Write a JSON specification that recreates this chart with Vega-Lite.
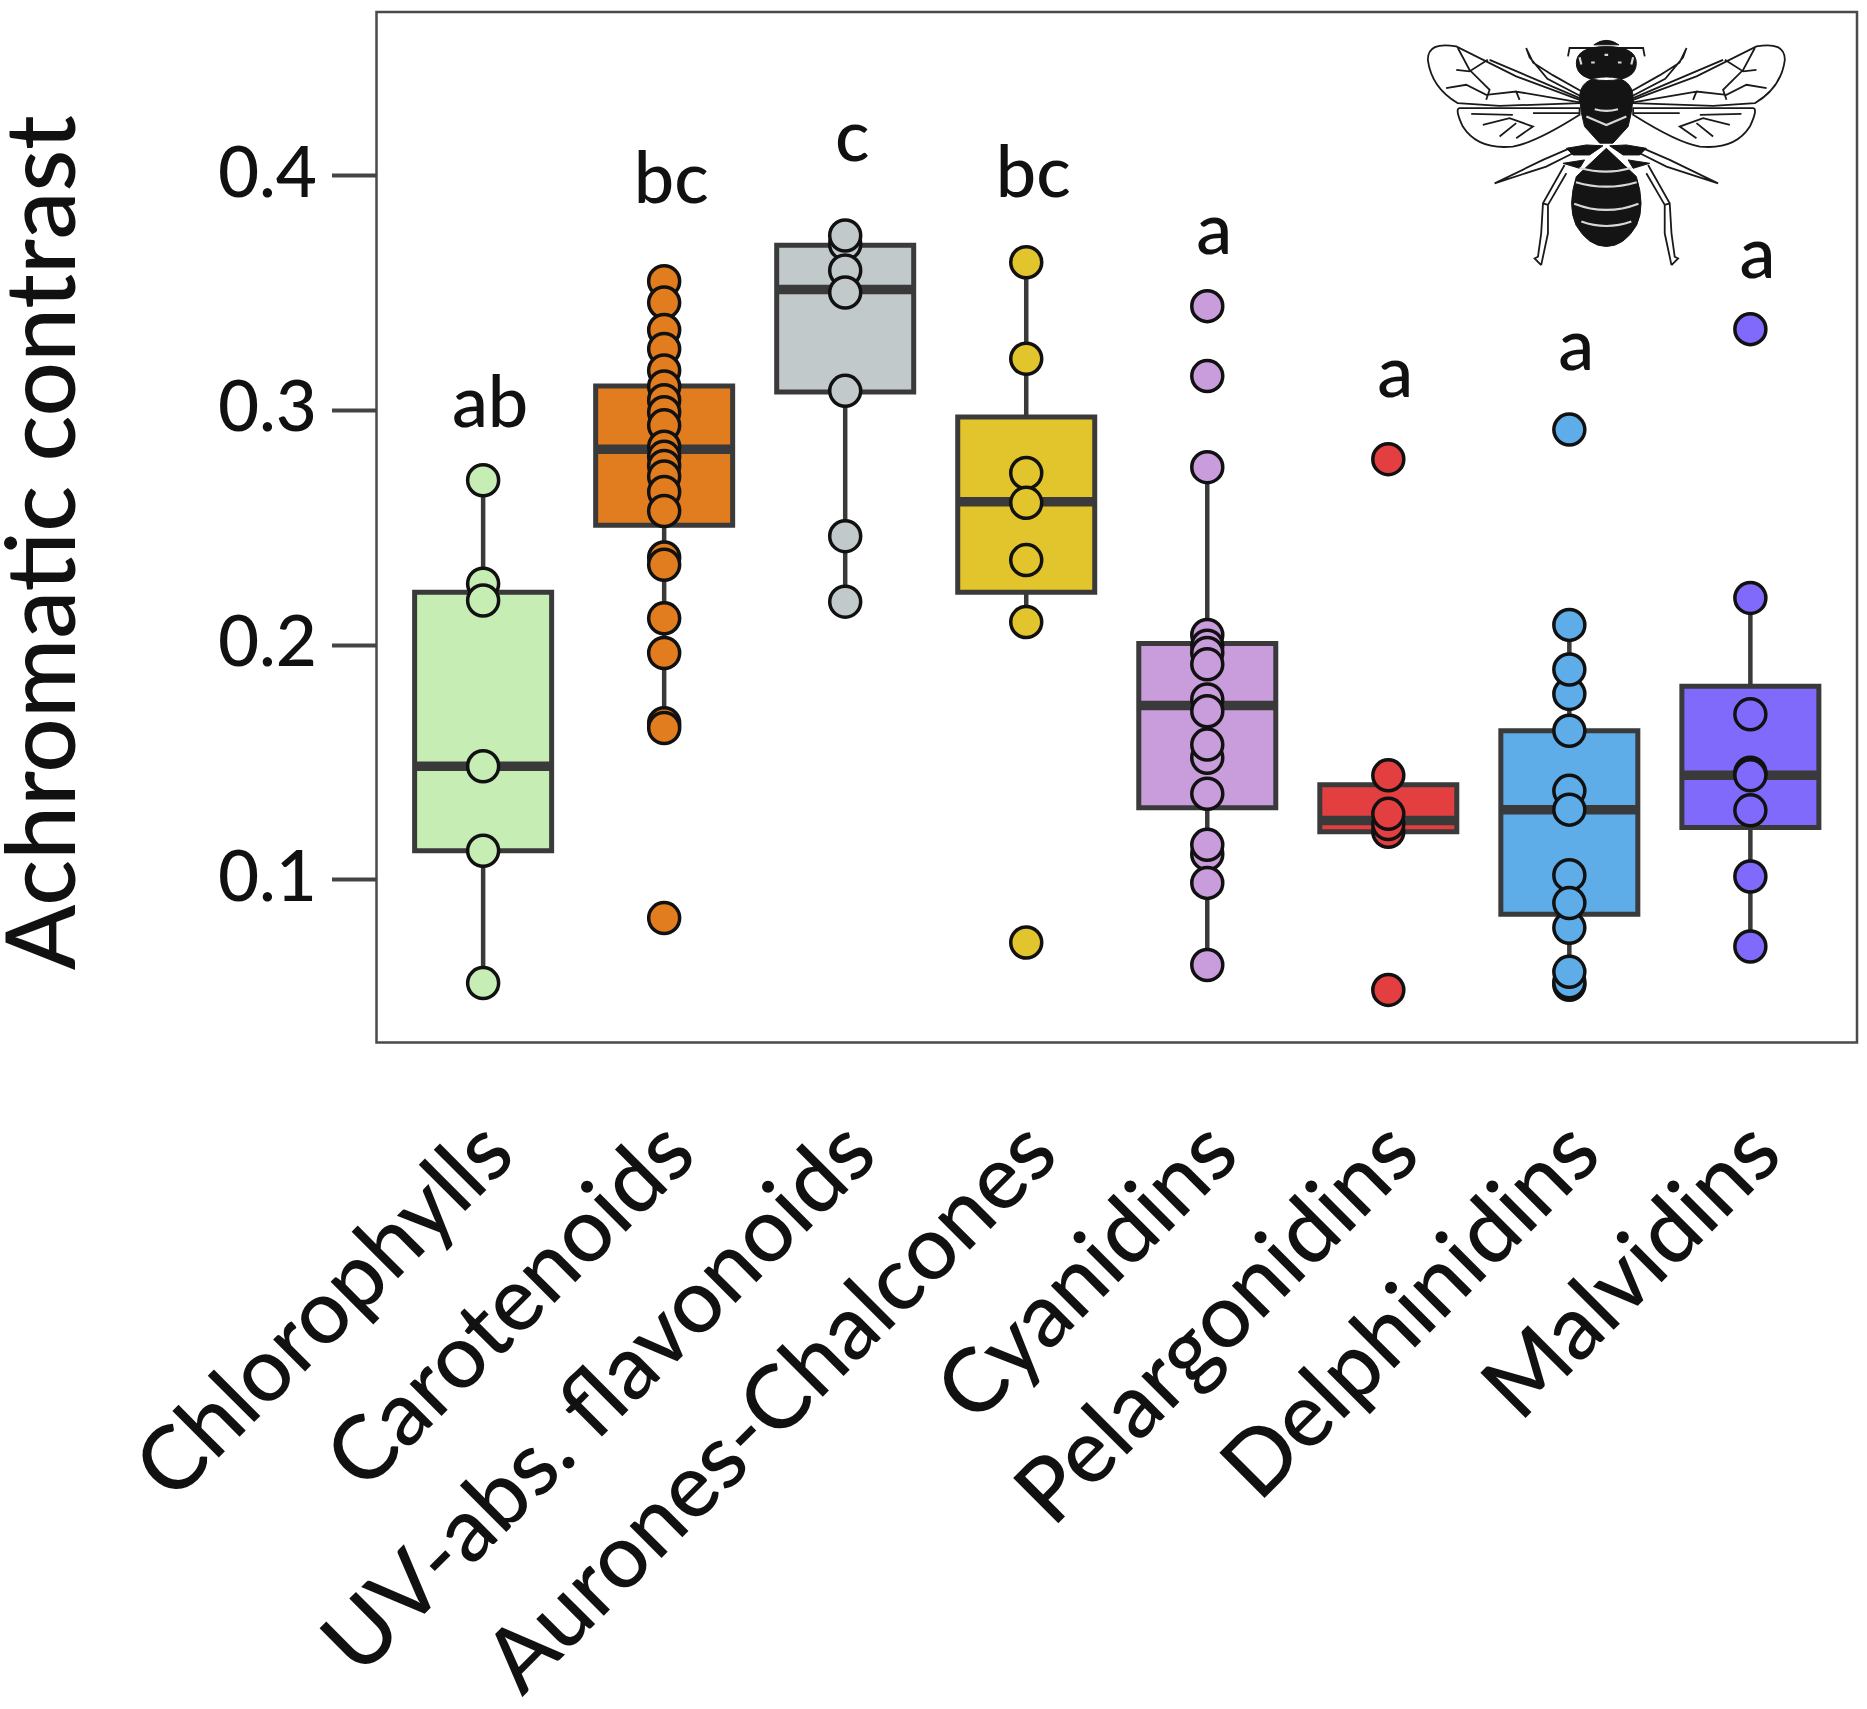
{
  "$schema": "https://vega.github.io/schema/vega-lite/v6.json",
  "width": 1480.5,
  "height": 1030.5,
  "autosize": "none",
  "padding": {"left": 376.5, "top": 12, "right": 10, "bottom": 656},
  "background": "white",
  "view": {"stroke": "#4a4a4a", "strokeWidth": 2.5, "fill": "white"},
  "datasets": {
    "boxes": [
      {"group": "Chlorophylls", "low": 0.0558, "q1": 0.1122, "median": 0.1482, "q3": 0.2223, "high": 0.27},
      {"group": "Carotenoids", "low": 0.1645, "q1": 0.2508, "median": 0.2832, "q3": 0.3102, "high": 0.3548},
      {"group": "UV-abs. flavonoids", "low": 0.2183, "q1": 0.3076, "median": 0.3513, "q3": 0.3701, "high": 0.3743},
      {"group": "Aurones-Chalcones", "low": 0.2096, "q1": 0.2223, "median": 0.2609, "q3": 0.297, "high": 0.3629},
      {"group": "Cyanidins", "low": 0.0635, "q1": 0.1305, "median": 0.1741, "q3": 0.2005, "high": 0.2756},
      {"group": "Pelargonidins", "low": 0.1203, "q1": 0.1203, "median": 0.1251, "q3": 0.1403, "high": 0.1443},
      {"group": "Delphinidins", "low": 0.0551, "q1": 0.0851, "median": 0.1297, "q3": 0.1633, "high": 0.2084},
      {"group": "Malvidins", "low": 0.0714, "q1": 0.1221, "median": 0.1443, "q3": 0.1823, "high": 0.2199}
    ],
    "letters": [
      {"group": "Chlorophylls", "label": "ab", "value": 0.2929},
      {"group": "Carotenoids", "label": "bc", "value": 0.3883},
      {"group": "UV-abs. flavonoids", "label": "c", "value": 0.4061},
      {"group": "Aurones-Chalcones", "label": "bc", "value": 0.3909},
      {"group": "Cyanidins", "label": "a", "value": 0.3665},
      {"group": "Pelargonidins", "label": "a", "value": 0.3056},
      {"group": "Delphinidins", "label": "a", "value": 0.3168},
      {"group": "Malvidins", "label": "a", "value": 0.3563}
    ],
    "bee": [{"group": "Delphinidins", "value": 0.4099}],
    "points": [
      {"group": "Chlorophylls", "value": 0.27},
      {"group": "Chlorophylls", "value": 0.2259},
      {"group": "Chlorophylls", "value": 0.2188},
      {"group": "Chlorophylls", "value": 0.1482},
      {"group": "Chlorophylls", "value": 0.1122},
      {"group": "Chlorophylls", "value": 0.0558},
      {"group": "Carotenoids", "value": 0.3548},
      {"group": "Carotenoids", "value": 0.3457},
      {"group": "Carotenoids", "value": 0.334},
      {"group": "Carotenoids", "value": 0.3259},
      {"group": "Carotenoids", "value": 0.3168},
      {"group": "Carotenoids", "value": 0.31},
      {"group": "Carotenoids", "value": 0.3041},
      {"group": "Carotenoids", "value": 0.299},
      {"group": "Carotenoids", "value": 0.2934},
      {"group": "Carotenoids", "value": 0.2843},
      {"group": "Carotenoids", "value": 0.28},
      {"group": "Carotenoids", "value": 0.2761},
      {"group": "Carotenoids", "value": 0.2716},
      {"group": "Carotenoids", "value": 0.265},
      {"group": "Carotenoids", "value": 0.2569},
      {"group": "Carotenoids", "value": 0.2371},
      {"group": "Carotenoids", "value": 0.234},
      {"group": "Carotenoids", "value": 0.2112},
      {"group": "Carotenoids", "value": 0.1964},
      {"group": "Carotenoids", "value": 0.1665},
      {"group": "Carotenoids", "value": 0.1645},
      {"group": "Carotenoids", "value": 0.0835},
      {"group": "UV-abs. flavonoids", "value": 0.3706},
      {"group": "UV-abs. flavonoids", "value": 0.3743},
      {"group": "UV-abs. flavonoids", "value": 0.3594},
      {"group": "UV-abs. flavonoids", "value": 0.35},
      {"group": "UV-abs. flavonoids", "value": 0.3081},
      {"group": "UV-abs. flavonoids", "value": 0.2462},
      {"group": "UV-abs. flavonoids", "value": 0.2183},
      {"group": "Aurones-Chalcones", "value": 0.3629},
      {"group": "Aurones-Chalcones", "value": 0.3218},
      {"group": "Aurones-Chalcones", "value": 0.2731},
      {"group": "Aurones-Chalcones", "value": 0.2604},
      {"group": "Aurones-Chalcones", "value": 0.236},
      {"group": "Aurones-Chalcones", "value": 0.2096},
      {"group": "Aurones-Chalcones", "value": 0.0731},
      {"group": "Cyanidins", "value": 0.3442},
      {"group": "Cyanidins", "value": 0.3144},
      {"group": "Cyanidins", "value": 0.2756},
      {"group": "Cyanidins", "value": 0.2041},
      {"group": "Cyanidins", "value": 0.1995},
      {"group": "Cyanidins", "value": 0.1964},
      {"group": "Cyanidins", "value": 0.1916},
      {"group": "Cyanidins", "value": 0.1766},
      {"group": "Cyanidins", "value": 0.1716},
      {"group": "Cyanidins", "value": 0.1518},
      {"group": "Cyanidins", "value": 0.1574},
      {"group": "Cyanidins", "value": 0.1365},
      {"group": "Cyanidins", "value": 0.1107},
      {"group": "Cyanidins", "value": 0.1147},
      {"group": "Cyanidins", "value": 0.0985},
      {"group": "Cyanidins", "value": 0.0635},
      {"group": "Pelargonidins", "value": 0.279},
      {"group": "Pelargonidins", "value": 0.1443},
      {"group": "Pelargonidins", "value": 0.1203},
      {"group": "Pelargonidins", "value": 0.1236},
      {"group": "Pelargonidins", "value": 0.1279},
      {"group": "Pelargonidins", "value": 0.0529},
      {"group": "Delphinidins", "value": 0.2916},
      {"group": "Delphinidins", "value": 0.2084},
      {"group": "Delphinidins", "value": 0.179},
      {"group": "Delphinidins", "value": 0.1894},
      {"group": "Delphinidins", "value": 0.1633},
      {"group": "Delphinidins", "value": 0.1377},
      {"group": "Delphinidins", "value": 0.1297},
      {"group": "Delphinidins", "value": 0.1018},
      {"group": "Delphinidins", "value": 0.0794},
      {"group": "Delphinidins", "value": 0.0899},
      {"group": "Delphinidins", "value": 0.0551},
      {"group": "Delphinidins", "value": 0.0562},
      {"group": "Delphinidins", "value": 0.0606},
      {"group": "Malvidins", "value": 0.3344},
      {"group": "Malvidins", "value": 0.2199},
      {"group": "Malvidins", "value": 0.1703},
      {"group": "Malvidins", "value": 0.1454},
      {"group": "Malvidins", "value": 0.1443},
      {"group": "Malvidins", "value": 0.1294},
      {"group": "Malvidins", "value": 0.1012},
      {"group": "Malvidins", "value": 0.0714}
    ]
  },
  "encoding": {
    "x": {
      "field": "group",
      "type": "nominal",
      "title": null,
      "sort": null,
      "scale": {
        "domain": ["Chlorophylls", "Carotenoids", "UV-abs. flavonoids", "Aurones-Chalcones", "Cyanidins", "Pelargonidins", "Delphinidins", "Malvidins"],
        "paddingInner": 0,
        "paddingOuter": 0.089
      },
      "axis": {
        "domain": false,
        "ticks": false,
        "labelAngle": -45,
        "labelAlign": "right",
        "labelBaseline": "middle",
        "labelFont": "Lato",
        "labelFontSize": 89,
        "labelFontWeight": 500,
        "labelColor": "#111",
        "labelPadding": 96,
        "labelOffset": 16,
        "labelLimit": 0,
        "labelOverlap": false
      }
    }
  },
  "layer": [
    {
      "data": {"name": "boxes"},
      "mark": {"type": "rule", "color": "#3a3a3a", "strokeWidth": 4.5},
      "encoding": {
        "y": {
          "field": "low",
          "type": "quantitative",
          "title": "Achromatic contrast",
          "scale": {"domain": [0.0305, 0.4695], "nice": false, "zero": false},
          "axis": {
            "values": [0.1, 0.2, 0.3, 0.4],
            "format": ".1f",
            "grid": false,
            "domain": false,
            "tickSize": 45,
            "tickWidth": 4,
            "tickColor": "#444",
            "labelFont": "Lato",
            "labelFontSize": 71,
            "labelFontWeight": 500,
            "labelColor": "#111",
            "labelPadding": 15,
            "titleFont": "Lato",
            "titleFontSize": 96,
            "titleFontWeight": 500,
            "titleColor": "#111",
            "titleX": -282,
            "titleY": 530
          }
        },
        "y2": {"field": "high"}
      }
    },
    {
      "data": {"name": "boxes"},
      "mark": {"type": "bar", "size": 137, "stroke": "#3a3a3a", "strokeWidth": 5},
      "encoding": {
        "y": {"field": "q1", "type": "quantitative"},
        "y2": {"field": "q3"},
        "fill": {
          "field": "group",
          "type": "nominal",
          "legend": null,
          "scale": {
            "domain": ["Chlorophylls", "Carotenoids", "UV-abs. flavonoids", "Aurones-Chalcones", "Cyanidins", "Pelargonidins", "Delphinidins", "Malvidins"],
            "range": ["#c5edb4", "#e17d1e", "#c1c9cb", "#e2c52d", "#c99cdc", "#e33f40", "#5eade9", "#7f6afb"]
          }
        }
      }
    },
    {
      "data": {"name": "boxes"},
      "mark": {"type": "tick", "size": 137, "thickness": 9.5, "color": "#3a3a3a", "opacity": 1},
      "encoding": {
        "y": {"field": "median", "type": "quantitative"}
      }
    },
    {
      "data": {"name": "points"},
      "mark": {"type": "circle", "size": 961, "stroke": "#111", "strokeWidth": 3.5, "opacity": 1},
      "encoding": {
        "y": {"field": "value", "type": "quantitative"},
        "fill": {"field": "group", "type": "nominal", "legend": null}
      }
    },
    {
      "data": {"name": "letters"},
      "mark": {"type": "text", "font": "Lato", "fontSize": 72, "fontWeight": 500, "color": "#111", "baseline": "alphabetic", "align": "center", "dx": 7},
      "encoding": {
        "y": {"field": "value", "type": "quantitative"},
        "text": {"field": "label"}
      }
    },
    {
      "data": {"name": "bee"},
      "mark": {
        "type": "point",
        "size": 127449,
        "xOffset": 37,
        "filled": true,
        "opacity": 1,
        "fill": "white",
        "stroke": "#1a1a1a",
        "strokeWidth": 1.8,
        "shape": "M-.15 -.292L-.505 -.423L-.841 -.591Q-1 -.62 -1 -.516Q-.98 -.36 -.832 -.273L-.598 -.258L-.15 -.273ZM-.15 -.208Q-.4 -.05 -.524 -.03Q-.72 -.01 -.804 -.142Q-.85 -.24 -.823 -.245L-.15 -.245ZM.15 -.292L.505 -.423L.841 -.591Q1 -.62 1 -.516Q.98 -.36 .832 -.273L.598 -.258L.15 -.273ZM.15 -.208Q.4 -.05 .524 -.03Q.72 -.01 .804 -.142Q.85 -.24 .823 -.245L.15 -.245Z"
      },
      "encoding": {"y": {"field": "value", "type": "quantitative"}}
    },
    {
      "data": {"name": "bee"},
      "mark": {
        "type": "point",
        "size": 127449,
        "xOffset": 37,
        "filled": false,
        "opacity": 1,
        "stroke": "#1a1a1a",
        "strokeWidth": 1.8,
        "shape": "M-.832 -.582L-.767 -.46L-.654 -.348L-.673 -.292M-.841 -.46L-.767 -.451L-.664 -.516M-.898 -.357L-.785 -.376L-.673 -.32L-.505 -.338L-.486 -.292M-.757 -.213L-.524 -.208M-.692 -.151L-.542 -.189L-.411 -.142L-.505 -.077M-.598 -.086L-.505 -.161M-.654 -.516L-.15 -.301M-.505 -.338L-.15 -.277M-.411 -.217L-.15 -.217M.832 -.582L.767 -.46L.654 -.348L.673 -.292M.841 -.46L.767 -.451L.664 -.516M.898 -.357L.785 -.376L.673 -.32L.505 -.338L.486 -.292M.757 -.213L.524 -.208M.692 -.151L.542 -.189L.411 -.142L.505 -.077M.598 -.086L.505 -.161M.654 -.516L.15 -.301M.505 -.338L.15 -.277M.411 -.217L.15 -.217M-.449 -.582L-.43 -.53L-.33 -.41L-.14 -.31M-.449 -.582L-.41 -.5L-.3 -.43L-.14 -.34M.449 -.582L.43 -.53L.33 -.41L.14 -.31M.449 -.582L.41 -.5L.3 -.43L.14 -.34M-.626 .176L-.355 .045L-.206 -.02M-.626 .176L-.337 .082L-.168 -.002M.626 .176L.355 .045L.206 -.02M.626 .176L.337 .082L.168 -.002M-.234 .073L-.355 .288L-.365 .456L-.383 .587L-.402 .597L-.365 .634M-.224 .12L-.327 .297L-.327 .456L-.365 .634M-.355 .288L-.327 .297M.234 .073L.355 .288L.365 .456L.383 .587L.402 .597L.365 .634M.224 .12L.327 .297L.327 .456L.365 .634M.355 .288L.327 .297M-.215 -.535L-.206 -.582L.206 -.582L.215 -.535"
      },
      "encoding": {"y": {"field": "value", "type": "quantitative"}}
    },
    {
      "data": {"name": "bee"},
      "mark": {
        "type": "point",
        "size": 127449,
        "xOffset": 37,
        "filled": true,
        "opacity": 1,
        "fill": "#141414",
        "stroke": "#141414",
        "strokeWidth": 1,
        "shape": "M-.168 -.497Q-.168 -.59 0 -.59Q.168 -.59 .168 -.497Q.168 -.4 0 -.4Q-.168 -.4 -.168 -.497ZM0 -.42Q-.15 -.42 -.15 -.3L-.14 -.22L-.122 -.142L-.037 -.049L.037 -.049L.122 -.142L.14 -.22L.15 -.3Q.15 -.42 0 -.42ZM0 -.02L-.168 .138Q-.22 .3 -.17 .41Q-.1 .53 0 .53Q.1 .53 .17 .41Q.22 .3 .168 .138ZM-.224 -.02L-.112 -.039L-.019 -.034L-.094 .017L-.187 .017ZM.224 -.02L.112 -.039L.019 -.034L.094 .017L.187 .017ZM-.243 .064L-.122 .045L-.15 .092ZM.243 .064L.122 .045L.15 .092ZM-.07 -.6Q0 -.65 .07 -.6Z"
      },
      "encoding": {"y": {"field": "value", "type": "quantitative"}}
    },
    {
      "data": {"name": "bee"},
      "mark": {
        "type": "point",
        "size": 127449,
        "xOffset": 37,
        "filled": false,
        "opacity": 1,
        "stroke": "#d8d8d8",
        "strokeWidth": 2.2,
        "shape": "M-.15 .09Q0 .13 .14 .09M-.17 .17Q0 .22 .17 .17M-.18 .29Q0 .36 .18 .29M-.14 .39Q0 .44 .14 .39M-.085 -.501L-.065 -.501M-.01 -.544L.01 -.544M.065 -.501L.085 -.501M-.15 -.53L-.14 -.49M.15 -.53L.14 -.49M-.065 -.239Q0 -.22 .065 -.239M-.112 -.198L0 -.151L.112 -.198"
      },
      "encoding": {"y": {"field": "value", "type": "quantitative"}}
    }
  ]
}
